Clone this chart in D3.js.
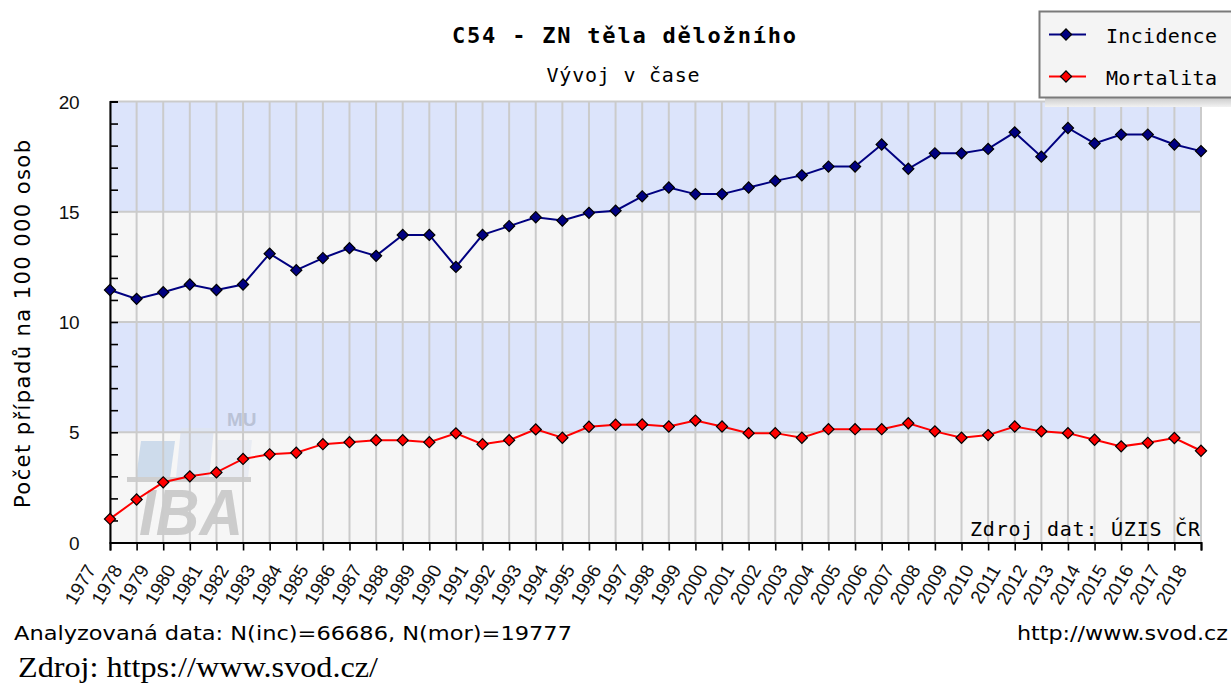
<!DOCTYPE html>
<html><head><meta charset="utf-8">
<script src="https://cdn.jsdelivr.net/npm/d3@7"></script>
<style>body{margin:0;background:#fff}svg{display:block}</style>
</head><body>
<svg id="c" width="1231" height="686"></svg>
<script>
const years = [1977,1978,1979,1980,1981,1982,1983,1984,1985,1986,1987,1988,1989,1990,1991,1992,1993,1994,1995,1996,1997,1998,1999,2000,2001,2002,2003,2004,2005,2006,2007,2008,2009,2010,2011,2012,2013,2014,2015,2016,2017,2018];
const incidence = [11.45,11.05,11.35,11.7,11.45,11.7,13.1,12.35,12.9,13.35,13.0,13.95,13.95,12.5,13.95,14.35,14.75,14.6,14.95,15.05,15.7,16.1,15.8,15.8,16.1,16.4,16.65,17.05,17.05,18.05,16.95,17.65,17.65,17.85,18.6,17.5,18.8,18.1,18.5,18.5,18.05,17.75];
const mortality = [1.07,1.95,2.73,3.0,3.18,3.79,4.0,4.07,4.46,4.55,4.64,4.64,4.55,4.95,4.46,4.64,5.13,4.75,5.25,5.34,5.35,5.26,5.53,5.26,4.96,4.96,4.75,5.14,5.14,5.14,5.41,5.04,4.75,4.87,5.26,5.04,4.96,4.66,4.36,4.52,4.74,4.16];
const yMajorTicks = [0,5,10,15,20];
const yMinorTicks = [0,1,2,3,4,5,6,7,8,9,10,11,12,13,14,15,16,17,18,19,20];
const bands = [[0,5],[5,10],[10,15],[15,20]];
const seriesNames = ["Incidence","Mortalita"];
const seriesColors = ["#000080","#ff0000"];

const svg = d3.select("#c");
const x = d3.scaleLinear().domain([d3.min(years), d3.max(years)]).range([110, 1201]);
const y = d3.scaleLinear().domain([0, 20]).range([542.5, 101.5]);

// bands
svg.append("g").selectAll("rect").data(bands).join("rect")
  .attr("x", x.range()[0]).attr("width", x.range()[1]-x.range()[0])
  .attr("y", d => y(d[1])).attr("height", d => y(d[0]) - y(d[1]))
  .attr("fill", (d,i) => i % 2 ? "#dce4fb" : "#f6f6f6");

// watermark logo
const wm = svg.append("g").attr("opacity", 0.9);
wm.append("polygon").attr("points","141,441 175,441 170,478 136,478").attr("fill","#c9d9ea");
wm.append("polygon").attr("points","181,428 214,428 209,478 176,478").attr("fill","#dfe6f3");
wm.append("polygon").attr("points","218,440 252,440 248,478 214,478").attr("fill","#e8ecf3");
wm.append("rect").attr("x",127).attr("y",477).attr("width",124).attr("height",5).attr("fill","#cbcbcb");
wm.append("text").attr("x",227).attr("y",426).attr("font-family","Liberation Sans, Arial, sans-serif")
  .attr("font-size",19).attr("font-weight","bold").attr("fill","#b7bfd3").text("MU");
wm.append("text").attr("x",139).attr("y",535).attr("font-family","Liberation Sans, Arial, sans-serif")
  .attr("font-size",64).attr("font-weight","bold").attr("font-style","italic").attr("fill","#c8c8c8")
  .attr("textLength",104).attr("lengthAdjust","spacingAndGlyphs").text("IBA");

// grid
svg.append("g").selectAll("line").data(years).join("line")
  .attr("x1", d => x(d)).attr("x2", d => x(d)).attr("y1", y(20)).attr("y2", y(0))
  .attr("stroke", "#cbcbcb").attr("stroke-width", 2);
svg.append("g").selectAll("line").data(yMajorTicks.filter(d => d > 0)).join("line")
  .attr("x1", x.range()[0]).attr("x2", x.range()[1]).attr("y1", d => y(d)).attr("y2", d => y(d))
  .attr("stroke", "#cbcbcb").attr("stroke-width", 2);

// y axis
const yAxis = svg.append("g").attr("transform", `translate(${x.range()[0]},0)`)
  .call(d3.axisLeft(y).tickValues(yMinorTicks).tickSize(-8).tickFormat(""));
yAxis.select(".domain").attr("stroke", "#000").attr("stroke-width", 2);
yAxis.selectAll(".tick line").attr("stroke", "#000").attr("stroke-width", 1.6);
svg.append("g").selectAll("text").data(yMajorTicks).join("text")
  .attr("x", 79).attr("y", d => y(d) + 7).attr("text-anchor", "end")
  .attr("font-family", "Liberation Sans, Arial, sans-serif").attr("font-size", 19)
  .attr("letter-spacing", -0.5).attr("fill", "#111").text(d => d);

// x axis
const xAxis = svg.append("g").attr("transform", `translate(0,${y(0)})`)
  .call(d3.axisBottom(x).tickValues(years).tickSize(8).tickFormat(d => d));
xAxis.select(".domain").attr("stroke", "#000").attr("stroke-width", 2);
xAxis.selectAll(".tick line").attr("stroke", "#000").attr("stroke-width", 1.6);
xAxis.selectAll(".tick text")
  .attr("x", 0).attr("y", 0).attr("dy", 0)
  .attr("transform", "translate(-14,27) rotate(-60)")
  .attr("text-anchor", "end")
  .attr("font-family", "Liberation Sans, Arial, sans-serif").attr("font-size", 19)
  .attr("fill", "#111");

// lines + markers
const series = [incidence, mortality];
const line = d3.line().x((d,i) => x(years[i])).y(d => y(d));
const diamond = d3.symbol().type(d3.symbolSquare).size(62);
series.forEach((vals, si) => {
  svg.append("path").datum(vals).attr("d", line).attr("fill", "none")
    .attr("stroke", seriesColors[si]).attr("stroke-width", 2);
  svg.append("g").selectAll("path").data(vals).join("path")
    .attr("d", diamond)
    .attr("transform", (d,i) => `translate(${x(years[i])},${y(d)}) rotate(45)`)
    .attr("fill", seriesColors[si]).attr("stroke", "#000").attr("stroke-width", 1.2);
});

// titles
svg.append("text").attr("x", 624).attr("y", 43).attr("text-anchor", "middle")
  .attr("font-family", "DejaVu Sans Mono, monospace").attr("font-weight", "bold").attr("font-size", 22)
  .attr("textLength", 344).attr("lengthAdjust", "spacing").attr("fill", "#000")
  .text("C54 - ZN těla děložního");
svg.append("text").attr("x", 623).attr("y", 82).attr("text-anchor", "middle")
  .attr("font-family", "DejaVu Sans Mono, monospace").attr("font-size", 20)
  .attr("textLength", 153).attr("lengthAdjust", "spacing").attr("fill", "#000")
  .text("Vývoj v čase");

// y title
svg.append("text").attr("transform", "translate(30,324) rotate(-90)").attr("text-anchor", "middle")
  .attr("font-family", "DejaVu Sans, sans-serif").attr("font-size", 21)
  .attr("textLength", 368).attr("lengthAdjust", "spacing").attr("fill", "#000")
  .text("Počet případů na 100 000 osob");

// source inside plot
svg.append("text").attr("x", 1200).attr("y", 536).attr("text-anchor", "end")
  .attr("font-family", "DejaVu Sans Mono, monospace").attr("font-size", 20)
  .attr("textLength", 230).attr("lengthAdjust", "spacing").attr("fill", "#000")
  .text("Zdroj dat: ÚZIS ČR");

// footer
svg.append("text").attr("x", 14).attr("y", 640)
  .attr("font-family", "DejaVu Sans, sans-serif").attr("font-size", 20)
  .attr("textLength", 558).attr("lengthAdjust", "spacingAndGlyphs").attr("fill", "#000")
  .text("Analyzovaná data: N(inc)=66686, N(mor)=19777");
svg.append("text").attr("x", 1228).attr("y", 640).attr("text-anchor", "end")
  .attr("font-family", "DejaVu Sans, sans-serif").attr("font-size", 20)
  .attr("textLength", 211).attr("lengthAdjust", "spacingAndGlyphs").attr("fill", "#000")
  .text("http://www.svod.cz");
svg.append("text").attr("x", 18).attr("y", 677)
  .attr("font-family", "Liberation Serif, Times New Roman, serif").attr("font-size", 30)
  .attr("textLength", 360).attr("lengthAdjust", "spacingAndGlyphs").attr("fill", "#000")
  .text("Zdroj: https://www.svod.cz/");

// legend
const defs = svg.append("defs");
const grad = defs.append("linearGradient").attr("id","sh").attr("x1",0).attr("y1",0).attr("x2",0).attr("y2",1);
grad.append("stop").attr("offset","0%").attr("stop-color","#c8c8c8");
grad.append("stop").attr("offset","100%").attr("stop-color","#f2f2f2");
svg.append("rect").attr("x", 1045).attr("y", 97).attr("width", 200).attr("height", 10).attr("fill", "url(#sh)");
svg.append("rect").attr("x", 1039.5).attr("y", 11.5).attr("width", 200).attr("height", 86)
  .attr("fill", "#f4f4f4").attr("stroke", "#7a7a7a").attr("stroke-width", 2);
const leg = svg.append("g").selectAll("g").data(seriesNames).join("g")
  .attr("transform", (d,i) => `translate(0,${i ? 76.5 : 34.5})`);
leg.append("line").attr("x1", 1049).attr("x2", 1086).attr("y1", 0).attr("y2", 0)
  .attr("stroke", (d,i) => seriesColors[i]).attr("stroke-width", 2);
leg.append("path").attr("d", diamond).attr("transform", "translate(1066,0) rotate(45)")
  .attr("fill", (d,i) => seriesColors[i]).attr("stroke", "#000").attr("stroke-width", 1.2);
leg.append("text").attr("x", 1106).attr("y", 8)
  .attr("font-family", "DejaVu Sans Mono, monospace").attr("font-size", 20)
  .attr("textLength", 111).attr("lengthAdjust", "spacing").attr("fill", "#000")
  .text(d => d);
</script>
</body></html>
